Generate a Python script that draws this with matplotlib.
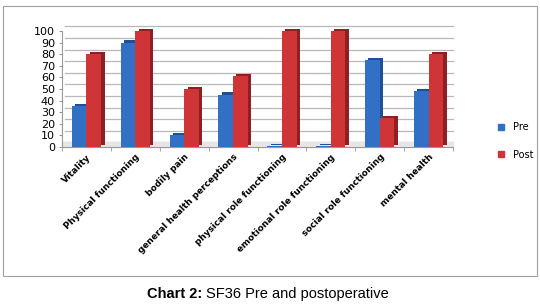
import numpy as np
import matplotlib.pyplot as plt
from matplotlib.patches import Rectangle
from matplotlib.lines import Line2D

## SF36 pre / post data ###############################################
categories = ['Vitality', 'Physical functioning', 'bodily pain',
              'general health perceptions', 'physical role functioning',
              'emotional role functioning', 'social role functioning',
              'mental health']
pre = [35, 90, 10, 45, 0, 0, 75, 48]
post = [80, 100, 50, 61, 100, 100, 25, 80]
yticks = list(range(0, 101, 10))

blue, blue_dk = '#3270c6', '#1f4f95'
red, red_dk = '#cf3436', '#8e1f22'

fig = plt.figure(figsize=(5.4, 3.07), dpi=100)

# outer frame of the chart
fig.patches.append(Rectangle((3/540, 1-276/307), 534/540, 270/307,
                             transform=fig.transFigure, fill=False,
                             edgecolor='#a0a0a0', linewidth=0.8))

ax = fig.add_axes([62/540, 1-147/307, 391/540, 116/307])
x = np.arange(len(categories))
w = 0.3
dx, dy = 0.07, 2.0   # fake depth

# back gridlines
for v in yticks:
    ax.plot([-0.5 + dx, len(categories) - 0.5], [v + dy*2, v + dy*2],
            color='#b8b8b8', lw=0.9, zorder=0, clip_on=False)

# floor
ax.fill_between([-0.5, len(categories) - 0.5], 0, dy*2, color='#e6e6e6',
                zorder=0.5, clip_on=False)

for vals, off, c, cd in [(pre, -w/2, blue, blue_dk), (post, w/2, red, red_dk)]:
    xs = x + off
    vals = np.maximum(vals, 0.8)
    # side/top depth
    ax.bar(xs + dx, vals, w, bottom=dy, color=cd, zorder=2, clip_on=False)
    ax.bar(xs, vals, w, color=c, zorder=3, clip_on=False)

ax.set_xlim(-0.5, len(categories) - 0.5)
ax.set_ylim(0, 100)
ax.set_yticks(yticks)
ax.set_yticklabels([str(v) for v in yticks], fontsize=8)
ax.set_xticks(np.arange(len(categories) + 1) - 0.5, minor=True)
ax.set_xticks(x)
ax.set_xticklabels(categories, rotation=45, ha='right', rotation_mode='anchor',
                   fontsize=6.4, fontweight='bold')
ax.tick_params(axis='x', which='major', length=0, pad=4)
ax.tick_params(axis='x', which='minor', length=3, color='#999999')
ax.tick_params(axis='y', length=2, color='#999999', pad=3)
for s in ['top', 'right']:
    ax.spines[s].set_visible(False)
ax.spines['left'].set_color('#999999')
ax.spines['bottom'].set_color('#999999')
ax.patch.set_alpha(0)

handles = [Line2D([], [], marker='s', ls='', color=blue, markersize=5),
           Line2D([], [], marker='s', ls='', color=red, markersize=5)]
fig.legend(handles, ['Pre', 'Post'], loc='center left',
           bbox_to_anchor=(483/540, 1-141/307), frameon=False,
           fontsize=7, handletextpad=0.2, labelspacing=1.8)

# caption, bold prefix + normal text, centred as a whole
cy = 1 - 294/307
t1 = fig.text(0, cy, 'Chart 2: ', ha='left', va='center',
              fontsize=10.5, fontweight='bold', family='Liberation Sans')
t2 = fig.text(0, cy, 'SF36 Pre and postoperative', ha='left', va='center',
              fontsize=10.5, family='Liberation Sans')
r = fig.canvas.get_renderer()
w1 = t1.get_window_extent(r).width / fig.bbox.width
w2 = t2.get_window_extent(r).width / fig.bbox.width
x0 = 268/540 - (w1 + w2) / 2
t1.set_x(x0)
t2.set_x(x0 + w1)

fig.savefig('out.png', dpi=100)
